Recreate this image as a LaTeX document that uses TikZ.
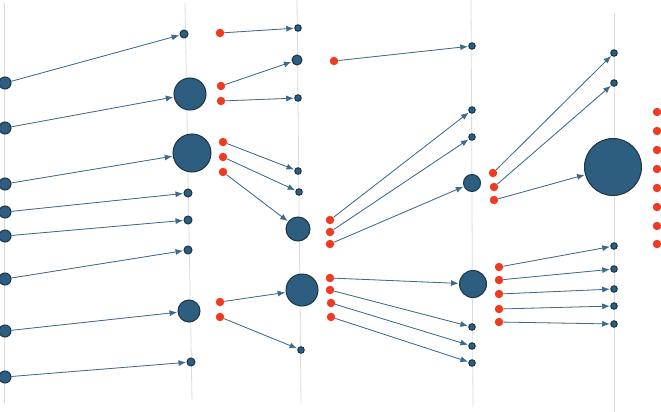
\documentclass[tikz,border=0pt]{standalone}
\usepackage{tikz}
\usetikzlibrary{arrows.meta}
\definecolor{hubfill}{HTML}{2D5E7F}
\definecolor{hubedge}{HTML}{1B3347}
\definecolor{linkc}{HTML}{3A6B8C}
\definecolor{dotred}{HTML}{EE3B22}
\tikzset{
  guide/.style={draw=black!14, line width=0.8pt},
  hub/.style={circle, draw=hubedge, fill=hubfill, line width=1pt, inner sep=0pt},
  src/.style={circle, fill=dotred, inner sep=0pt, minimum size=8.5pt},
  link/.style={-{Latex[length=7.5pt,width=6pt]}, draw=linkc, fill=linkc, line width=0.8pt, shorten >=0.5pt}
}
\begin{document}
\begin{tikzpicture}[x=1pt,y=-1pt]
  \useasboundingbox (0,0) rectangle (661,412);
  \draw[guide] (4,3)--(4,403);
  \draw[guide] (185,3)--(192,400);
  \draw[guide] (297,0)--(301,403);
  \draw[guide] (471,0)--(473,407);
  \draw[guide] (614,13)--(614,412);
  \foreach \y [count=\i] in {83,128,184,212,236,279,331,377}
    \node[hub, minimum size=12pt] (a\i) at (5,\y) {};
  \foreach \x/\y/\d [count=\i] in {184/34/8, 190/94/32, 192/153/38, 188/193/8, 188/220/8, 188/250/8, 189/311/22, 191/362/8}
    \node[hub, minimum size=\d pt] (b\i) at (\x,\y) {};
  \foreach \x/\y [count=\i] in {220/33, 221/86, 221/101, 223/142, 223/157, 223/172, 220/302, 220/317}
    \node[src] (c\i) at (\x,\y) {};
  \foreach \x/\y/\d [count=\i] in {298/28/6.5, 297/60/10, 298/98/6.5, 298/171/6.5, 299/192/6.5, 298/229/24, 302/290/32, 301/350/6.5}
    \node[hub, minimum size=\d pt] (d\i) at (\x,\y) {};
  \foreach \x/\y [count=\i] in {334/61, 330/220, 330/232, 330/244, 330/278, 330/290, 331/303, 331/317}
    \node[src] (e\i) at (\x,\y) {};
  \foreach \x/\y/\d [count=\i] in {472/46/6.5, 472/110/6.5, 472/137/6.5, 472/183/17, 473/284/27, 472/327/6.5, 472/346/6.5, 472/363/6.5}
    \node[hub, minimum size=\d pt] (f\i) at (\x,\y) {};
  \foreach \x/\y [count=\i] in {493/173, 494/187, 494/200, 499/267, 499/280, 499/294, 499/309, 499/322}
    \node[src] (g\i) at (\x,\y) {};
  \foreach \x/\y/\d [count=\i] in {614/53/6.5, 614/83/6.5, 613/167/57, 614/246/6.5, 614/269/6.5, 614/289/6.5, 614/306/6.5, 614/324/6.5}
    \node[hub, minimum size=\d pt] (h\i) at (\x,\y) {};
  \foreach \y [count=\i] in {112,131,150,169,188,207,226,244}
    \node[src] (k\i) at (657,\y) {};
  \foreach \i in {1,...,8}{
    \draw[link] (a\i) -- (b\i);
    \draw[link] (c\i) -- (d\i);
    \draw[link] (e\i) -- (f\i);
    \draw[link] (g\i) -- (h\i);
  }
\end{tikzpicture}
\end{document}
